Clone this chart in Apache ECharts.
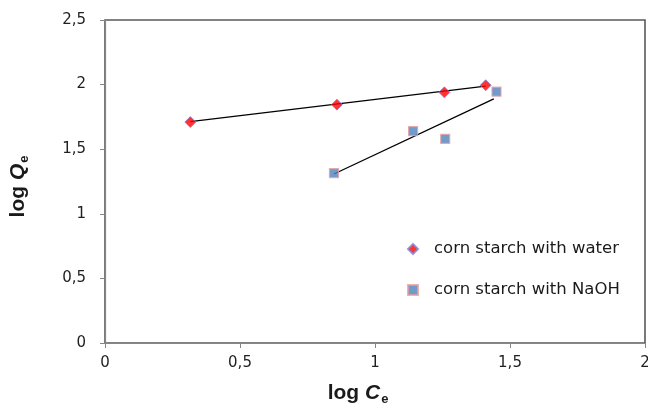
<!DOCTYPE html>
<html><head><meta charset="utf-8">
<script src="https://cdn.jsdelivr.net/npm/echarts@6/dist/echarts.min.js"></script>
<style>html,body{margin:0;padding:0;background:#fff}#c{width:648px;height:403px}</style>
</head><body><div id="c"></div>
<script>
var waterX = [0.316, 0.859, 1.257, 1.41];
var waterY = [1.71, 1.845, 1.94, 1.995];
var naohX = [0.848, 1.141, 1.26, 1.45];
var naohY = [1.315, 1.64, 1.58, 1.945];
var waterTrendX = [0.316, 1.41];
var waterTrendY = [1.713, 1.989];
var naohTrendX = [0.848, 1.44];
var naohTrendY = [1.308, 1.89];
var xTicks = [0, 0.5, 1, 1.5, 2];
var yTicks = [0, 0.5, 1, 1.5, 2, 2.5];

function zip(a, b) { return a.map(function (v, i) { return [v, b[i]]; }); }
function fmt(v) { return String(v).replace('.', ','); }

var titleRich = {
  b: {fontFamily: 'Liberation Sans', fontWeight: 'bold', fontSize: 21, color: '#1a1a1a'},
  i: {fontFamily: 'Liberation Sans', fontWeight: 'bold', fontStyle: 'italic', fontSize: 21, color: '#1a1a1a'},
  s: {fontFamily: 'Liberation Sans', fontWeight: 'bold', fontSize: 13, color: '#1a1a1a', padding: [12, 0, 0, 1]}
};

var chart = echarts.init(document.getElementById('c'), null, {renderer: 'canvas'});
chart.setOption({
  animation: false,
  grid: {left: 105, right: 3, top: 20, bottom: 60, show: true, borderColor: '#595959', borderWidth: 1.6,
    outerBoundsMode: 'none', containLabel: false},
  xAxis: {
    type: 'value', min: 0, max: 2, interval: 0.5,
    axisLine: {lineStyle: {color: '#868686', width: 1.2}},
    axisTick: {show: true, length: 5, lineStyle: {color: '#868686'}},
    splitLine: {show: false},
    axisLabel: {color: '#1f1f1f', fontFamily: 'DejaVu Sans', fontSize: 15, margin: 13, formatter: fmt},
    name: '{b|log }{i|C}{s|e}', nameLocation: 'middle', nameGap: 38,
    nameTextStyle: {padding: [0, 34, 0, 0], rich: titleRich}
  },
  yAxis: {
    type: 'value', min: 0, max: 2.5, interval: 0.5,
    axisLine: {show: true, lineStyle: {color: '#868686', width: 1.2}},
    axisTick: {show: true, length: 5, lineStyle: {color: '#868686'}},
    splitLine: {show: false},
    axisLabel: {color: '#1f1f1f', fontFamily: 'DejaVu Sans', fontSize: 15, margin: 19, formatter: fmt},
    name: '{b|log }{i|Q}{s|e}', nameLocation: 'middle', nameGap: 74,
    nameTextStyle: {padding: [0, 10, 0, 0], rich: titleRich}
  },
  legend: {
    orient: 'vertical', left: 402, top: 234, itemGap: 21, itemWidth: 10, itemHeight: 10,
    textStyle: {fontFamily: 'DejaVu Sans', fontSize: 16.5, color: '#1a1a1a', lineHeight: 20, padding: [0, 0, 0, 11]},
    data: ['corn starch with water', 'corn starch with NaOH']
  },
  series: [
    {type: 'line', data: zip(waterTrendX, waterTrendY), symbol: 'none', lineStyle: {color: '#000', width: 1.3}, silent: true, z: 2},
    {type: 'line', data: zip(naohTrendX, naohTrendY), symbol: 'none', lineStyle: {color: '#000', width: 1.3}, silent: true, z: 2},
    {name: 'corn starch with water', type: 'scatter', data: zip(waterX, waterY), symbol: 'diamond', symbolSize: 11,
      itemStyle: {color: '#FF0000', borderColor: '#7f86d6', borderWidth: 1}, z: 3},
    {name: 'corn starch with NaOH', type: 'scatter', data: zip(naohX, naohY), symbol: 'rect', symbolSize: 9,
      itemStyle: {color: '#4F81BD', borderColor: '#E6A0A0', borderWidth: 1.2}, z: 3}
  ]
});
</script></body></html>
